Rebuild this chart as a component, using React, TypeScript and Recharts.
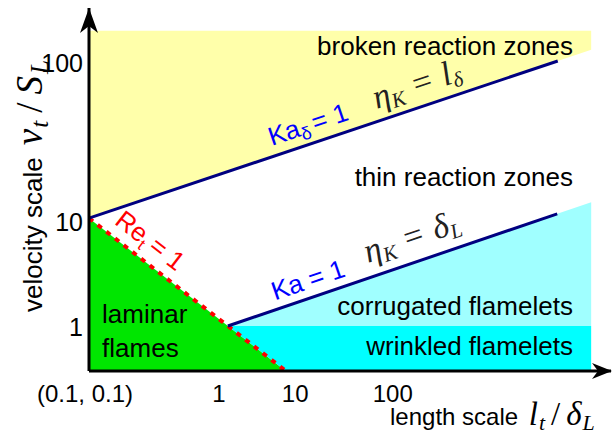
import React from "react";
import { ComposedChart, XAxis, YAxis, Area, Line, Scatter } from "recharts";

// ---------- chart geometry ----------
const CHART_W = 613;
const CHART_H = 434;
const MARGIN = { top: 8, right: 2, left: 0, bottom: 0 };
const Y_AXIS_W = 89;
const X_AXIS_H = 63;
const PLOT_W = CHART_W - Y_AXIS_W - MARGIN.right;
const PLOT_H = CHART_H - MARGIN.top - X_AXIS_H;

const FONT = "'Liberation Sans', Arial, Helvetica, sans-serif";
const MATH = "'Liberation Serif', 'Times New Roman', serif";

// ---------- data (schematic regime-diagram units, 0..10 on both axes) ----------
const xTickValues = [0, 2.49, 3.95, 5.82];
const xTickLabels = ["(0.1, 0.1)", "1", "10", "100"];
const yTickValues = [1.21, 4.1, 8.46];
const yTickLabels = ["1", "10", "100"];

// boundaries
const kaDeltaLine = [
  { x: 0, y: 4.21 },
  { x: 8.98, y: 8.54 },
];
const kaLine = [
  { x: 2.66, y: 1.24 },
  { x: 8.97, y: 4.33 },
];
const reLine = [
  { x: 0, y: 4.21 },
  { x: 3.77, y: 0 },
];

// regions (range areas)
const brokenZone = [
  { x: 0, range: [4.21, 9.37] },
  { x: 9.62, range: [8.85, 9.37] },
];
const laminarZone = [
  { x: 0, range: [0, 4.21] },
  { x: 3.77, range: [0, 0] },
];
const corrugatedZone = [
  { x: 2.66, range: [1.24, 1.24] },
  { x: 9.62, range: [1.24, 4.65] },
];
const wrinkledZone = [
  { x: 2.66, range: [1.24, 1.24] },
  { x: 3.77, range: [0, 1.24] },
  { x: 9.62, range: [0, 1.24] },
];

// axes with arrows
const xAxisLine = [
  { x: 0, y: 0 },
  { x: 10, y: 0 },
];
const yAxisLine = [
  { x: 0, y: 0 },
  { x: 0, y: 10 },
];
const xArrowTip = [{ x: 10, y: 0 }];
const yArrowTip = [{ x: 0, y: 10 }];

// region labels
const rightLabels = [
  { x: 9.27, y: 8.71, text: "broken reaction zones" },
  { x: 9.27, y: 5.1, text: "thin reaction zones" },
  { x: 9.27, y: 1.54, text: "corrugated flamelets" },
  { x: 9.27, y: 0.44, text: "wrinkled flamelets" },
];
const leftLabels = [
  { x: 0.25, y: 1.32, text: "laminar" },
  { x: 0.25, y: 0.39, text: "flames" },
];

// boundary label anchor points
const kaDeltaLabelPos = [{ x: 4.25, y: 6.56 }];
const etaLdeltaLabelPos = [{ x: 6.34, y: 7.62 }];
const kaLabelPos = [{ x: 4.25, y: 2.28 }];
const etaDeltaLLabelPos = [{ x: 6.25, y: 3.42 }];
const reLabelPos = [{ x: 1.07, y: 3.4 }];

// ---------- helpers ----------
const angleOf = (line: { x: number; y: number }[]) =>
  (-Math.atan2(
    ((line[1].y - line[0].y) / 10) * PLOT_H,
    ((line[1].x - line[0].x) / 10) * PLOT_W
  ) *
    180) /
  Math.PI;

const kaDeltaAngle = angleOf(kaDeltaLine);
const kaAngle = angleOf(kaLine);
const reAngle = angleOf(reLine);

const XTick = (props: any) => {
  const i = xTickValues.indexOf(props.payload.value);
  return (
    <text
      x={props.x + (i === 0 ? -4 : 0)}
      y={props.y}
      dy={31}
      textAnchor="middle"
      fontFamily={FONT}
      fontSize={24}
      fill="#000"
    >
      {xTickLabels[i]}
    </text>
  );
};

const YTick = (props: any) => {
  const i = yTickValues.indexOf(props.payload.value);
  return (
    <text
      x={props.x}
      y={props.y}
      dy={8.5}
      textAnchor="end"
      fontFamily={FONT}
      fontSize={25}
      fill="#000"
    >
      {yTickLabels[i]}
    </text>
  );
};

const XAxisTitle = (props: any) => {
  const vb = props.viewBox ?? { x: 89, y: 371, width: 522, height: 63 };
  const bx = vb.x + 301;
  const by = vb.y + 54;
  return (
    <text x={bx} y={by} fontFamily={FONT} fontSize={24} fill="#000">
      {"length scale "}
      <tspan fontFamily={MATH} fontStyle="italic" fontSize={33} dx={4}>l</tspan>
      <tspan fontFamily={MATH} fontStyle="italic" fontSize={22} dy={5} dx={1}>t</tspan>
      <tspan fontFamily={MATH} fontSize={33} dy={-5} dx={6}>/</tspan>
      <tspan fontFamily={MATH} fontStyle="italic" fontSize={33} dx={6}>δ</tspan>
      <tspan fontFamily={MATH} fontStyle="italic" fontSize={22} dy={5} dx={1}>L</tspan>
    </text>
  );
};

const YAxisTitle = (props: any) => {
  const vb = props.viewBox ?? { x: 0, y: 8, width: 89, height: 363 };
  const bx = vb.x + 42;
  const by = vb.y + 304;
  return (
    <text
      x={bx}
      y={by}
      transform={`rotate(-90 ${bx} ${by})`}
      fontFamily={FONT}
      fontSize={26}
      fill="#000"
    >
      {"velocity scale "}
      <tspan fontFamily={MATH} fontStyle="italic" fontSize={37} dx={5}>v</tspan>
      <tspan fontFamily={MATH} fontStyle="italic" fontSize={25} dy={6} dx={1}>t</tspan>
      <tspan fontFamily={MATH} fontSize={37} dy={-6} dx={8}>/</tspan>
      <tspan fontFamily={MATH} fontStyle="italic" fontSize={37} dx={8}>S</tspan>
      <tspan fontFamily={MATH} fontStyle="italic" fontSize={25} dy={6} dx={2}>L</tspan>
    </text>
  );
};

const RightLabel = (p: any) => (
  <text x={p.cx} y={p.cy} textAnchor="end" fontFamily={FONT} fontSize={26} fill="#000">
    {p.payload.text}
  </text>
);
const LeftLabel = (p: any) => (
  <text x={p.cx} y={p.cy} textAnchor="start" fontFamily={FONT} fontSize={26} fill="#000">
    {p.payload.text}
  </text>
);

const KaDeltaLabel = (p: any) => (
  <text
    x={p.cx}
    y={p.cy}
    transform={`rotate(${kaDeltaAngle} ${p.cx} ${p.cy})`}
    textAnchor="middle"
    fontFamily={FONT}
    fontSize={26}
    fill="#0000FF"
  >
    Ka
    <tspan fontSize={18} dy={5}>δ</tspan>
    <tspan dy={-5} dx={4}>= 1</tspan>
  </text>
);

const KaLabel = (p: any) => (
  <text
    x={p.cx}
    y={p.cy}
    transform={`rotate(${kaAngle} ${p.cx} ${p.cy})`}
    textAnchor="middle"
    fontFamily={FONT}
    fontSize={26}
    fill="#0000FF"
  >
    Ka = 1
  </text>
);

const ReLabel = (p: any) => (
  <text
    x={p.cx}
    y={p.cy}
    transform={`rotate(${reAngle} ${p.cx} ${p.cy})`}
    textAnchor="middle"
    fontFamily={FONT}
    fontSize={26}
    fill="#FF0000"
  >
    Re
    <tspan fontSize={16} dy={5}>t</tspan>
    <tspan dy={-5} dx={5}>= 1</tspan>
  </text>
);

const EtaLabel = (sub: string, sub2Main: string, sub2: string, angle: number) => (p: any) => (
  <text
    x={p.cx}
    y={p.cy}
    transform={`rotate(${angle} ${p.cx} ${p.cy})`}
    textAnchor="middle"
    fontFamily={MATH}
    fontSize={34}
    fill="#222"
  >
    <tspan fontStyle="italic">η</tspan>
    <tspan fontStyle="italic" fontSize={21} dy={5}>{sub}</tspan>
    <tspan dy={-5} dx={11}>=</tspan>
    <tspan fontStyle="italic" dx={11}>{sub2Main}</tspan>
    <tspan fontStyle="italic" fontSize={21} dy={5}>{sub2}</tspan>
  </text>
);

const EtaLdelta = EtaLabel("K", "l", "δ", kaDeltaAngle);
const EtaDeltaL = EtaLabel("K", "δ", "L", kaAngle);

const XArrow = (p: any) => (
  <path
    d={`M ${p.cx + 1} ${p.cy} L ${p.cx - 19} ${p.cy - 8} L ${p.cx - 13} ${p.cy} L ${p.cx - 19} ${p.cy + 8} Z`}
    fill="#000"
  />
);
const YArrow = (p: any) => (
  <path
    d={`M ${p.cx} ${p.cy} L ${p.cx - 9} ${p.cy + 25} L ${p.cx} ${p.cy + 18} L ${p.cx + 9} ${p.cy + 25} Z`}
    fill="#000"
  />
);

export default function App() {
  return (
    <div style={{ position: "absolute", left: 0, top: 0 }}>
      <ComposedChart width={CHART_W} height={CHART_H} margin={MARGIN}>
        <XAxis
          type="number"
          dataKey="x"
          domain={[0, 10]}
          ticks={xTickValues}
          interval={0}
          height={X_AXIS_H}
          tickLine={false}
          tickSize={0}
          tickMargin={0}
          axisLine={false}
          tick={XTick}
          label={XAxisTitle}
        />
        <YAxis
          type="number"
          dataKey="y"
          domain={[0, 10]}
          ticks={yTickValues}
          interval={0}
          width={Y_AXIS_W}
          tickLine={false}
          tickSize={0}
          tickMargin={6}
          axisLine={false}
          tick={YTick}
          label={YAxisTitle}
        />

        <Area data={brokenZone} dataKey="range" type="linear" fill="#FFFFAA" fillOpacity={1} stroke="none" dot={false} activeDot={false} isAnimationActive={false} />
        <Area data={laminarZone} dataKey="range" type="linear" fill="#00E600" fillOpacity={1} stroke="none" dot={false} activeDot={false} isAnimationActive={false} />
        <Area data={corrugatedZone} dataKey="range" type="linear" fill="#A0FFFF" fillOpacity={1} stroke="none" dot={false} activeDot={false} isAnimationActive={false} />
        <Area data={wrinkledZone} dataKey="range" type="linear" fill="#00FFFF" fillOpacity={1} stroke="none" dot={false} activeDot={false} isAnimationActive={false} />

        <Line data={reLine} dataKey="y" type="linear" stroke="#FF0000" strokeWidth={4} strokeDasharray="5 6" dot={false} activeDot={false} isAnimationActive={false} />
        <Line data={kaDeltaLine} dataKey="y" type="linear" stroke="#000080" strokeWidth={3} dot={false} activeDot={false} isAnimationActive={false} />
        <Line data={kaLine} dataKey="y" type="linear" stroke="#000080" strokeWidth={3} dot={false} activeDot={false} isAnimationActive={false} />
        <Line data={xAxisLine} dataKey="y" type="linear" stroke="#000" strokeWidth={3} dot={false} activeDot={false} isAnimationActive={false} />
        <Line data={yAxisLine} dataKey="y" type="linear" stroke="#000" strokeWidth={3} dot={false} activeDot={false} isAnimationActive={false} />

        <Scatter data={xArrowTip} dataKey="y" shape={XArrow} isAnimationActive={false} />
        <Scatter data={yArrowTip} dataKey="y" shape={YArrow} isAnimationActive={false} />
        <Scatter data={rightLabels} dataKey="y" shape={RightLabel} isAnimationActive={false} />
        <Scatter data={leftLabels} dataKey="y" shape={LeftLabel} isAnimationActive={false} />
        <Scatter data={kaDeltaLabelPos} dataKey="y" shape={KaDeltaLabel} isAnimationActive={false} />
        <Scatter data={etaLdeltaLabelPos} dataKey="y" shape={EtaLdelta} isAnimationActive={false} />
        <Scatter data={kaLabelPos} dataKey="y" shape={KaLabel} isAnimationActive={false} />
        <Scatter data={etaDeltaLLabelPos} dataKey="y" shape={EtaDeltaL} isAnimationActive={false} />
        <Scatter data={reLabelPos} dataKey="y" shape={ReLabel} isAnimationActive={false} />
      </ComposedChart>
    </div>
  );
}
